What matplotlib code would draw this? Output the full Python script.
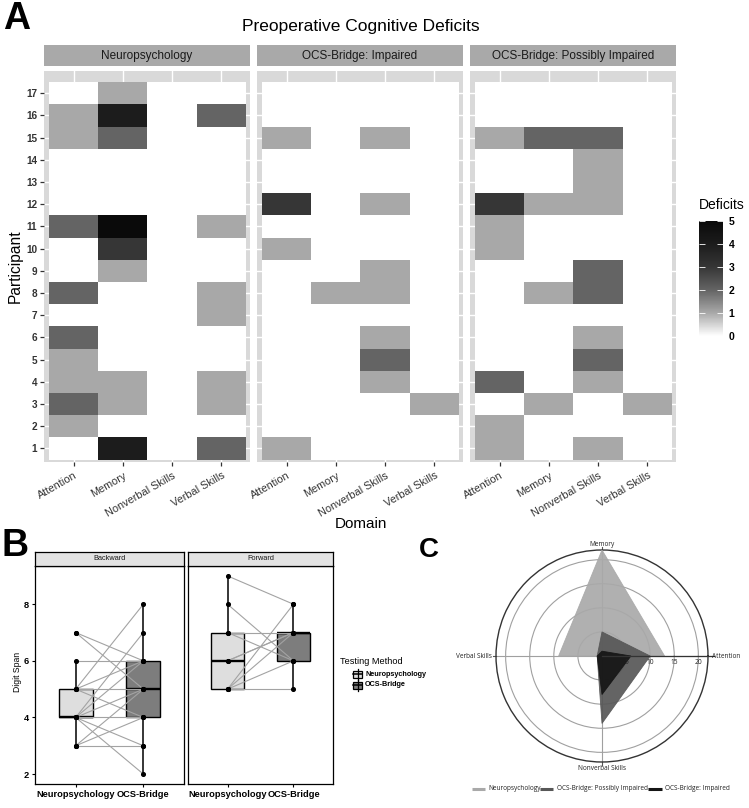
import numpy as np
import matplotlib
matplotlib.use('Agg')
import matplotlib.pyplot as plt
from matplotlib.colors import LinearSegmentedColormap
from matplotlib.patches import Rectangle
from matplotlib.lines import Line2D

plt.rcParams['font.family'] = ['Liberation Sans', 'DejaVu Sans']

W, H = 749, 808

# ---------------- data ----------------
domains = ['Attention', 'Memory', 'Nonverbal Skills', 'Verbal Skills']
participants = list(range(1, 18))
facets = ['Neuropsychology', 'OCS-Bridge: Impaired', 'OCS-Bridge: Possibly Impaired']

# deficits per participant 1..17
neuro_attention = [0, 1, 2, 1, 1, 2, 0, 2, 0, 0, 2, 0, 0, 0, 1, 1, 0]
neuro_memory    = [4, 0, 1, 1, 0, 0, 0, 0, 1, 3, 5, 0, 0, 0, 2, 4, 1]
neuro_nonverbal = [0, 0, 0, 0, 0, 0, 0, 0, 0, 0, 0, 0, 0, 0, 0, 0, 0]
neuro_verbal    = [2, 0, 1, 1, 0, 0, 1, 1, 0, 0, 1, 0, 0, 0, 0, 2, 0]

imp_attention = [1, 0, 0, 0, 0, 0, 0, 0, 0, 1, 0, 3, 0, 0, 1, 0, 0]
imp_memory    = [0, 0, 0, 0, 0, 0, 0, 1, 0, 0, 0, 0, 0, 0, 0, 0, 0]
imp_nonverbal = [0, 0, 0, 1, 2, 1, 0, 1, 1, 0, 0, 1, 0, 0, 1, 0, 0]
imp_verbal    = [0, 0, 1, 0, 0, 0, 0, 0, 0, 0, 0, 0, 0, 0, 0, 0, 0]

pos_attention = [1, 1, 0, 2, 0, 0, 0, 0, 0, 1, 1, 3, 0, 0, 1, 0, 0]
pos_memory    = [0, 0, 1, 0, 0, 0, 0, 1, 0, 0, 0, 1, 0, 0, 2, 0, 0]
pos_nonverbal = [1, 0, 0, 1, 2, 1, 0, 2, 2, 0, 0, 1, 1, 1, 2, 0, 0]
pos_verbal    = [0, 0, 1, 0, 0, 0, 0, 0, 0, 0, 0, 0, 0, 0, 0, 0, 0]

facet_data = {
    'Neuropsychology': [neuro_attention, neuro_memory, neuro_nonverbal, neuro_verbal],
    'OCS-Bridge: Impaired': [imp_attention, imp_memory, imp_nonverbal, imp_verbal],
    'OCS-Bridge: Possibly Impaired': [pos_attention, pos_memory, pos_nonverbal, pos_verbal],
}

# digit span pairs (neuropsychology, OCS-Bridge)
back_neuro = [7, 7, 6, 5, 5, 5, 5, 4, 4, 4, 4, 4, 4, 3, 3, 3]
back_ocs   = [6, 5, 6, 8, 6, 4, 5, 7, 5, 4, 3, 2, 6, 3, 4, 5]
fwd_neuro  = [9, 8, 7, 7, 6, 6, 5, 5, 5, 5]
fwd_ocs    = [8, 6, 7, 6, 7, 7, 5, 8, 7, 6]
methods = ['Neuropsychology', 'OCS-Bridge']

radar_axes = ['Attention', 'Memory', 'Verbal Skills', 'Nonverbal Skills']
radar_angles = [0, 90, 180, 270]

# ---------------- helpers ----------------
def box(x0, y0, x1, y1):
    return [x0 / W, 1 - y1 / H, (x1 - x0) / W, (y1 - y0) / H]

def T(x, y, s, **kw):
    return fig.text(x / W, 1 - y / H, s, **kw)

fig = plt.figure(figsize=(W / 100, H / 100), dpi=100)
fig.patch.set_facecolor('white')
ov = fig.add_axes([0, 0, 1, 1], zorder=10)
ov.set_xlim(0, W)
ov.set_ylim(H, 0)
ov.axis('off')
ov.patch.set_alpha(0)

# ---------------- Panel A ----------------
cmap = LinearSegmentedColormap.from_list(
    'def', [(0, '#ffffff'), (0.2, '#a8a8a8'), (0.4, '#646464'),
            (0.6, '#363636'), (0.8, '#1c1c1c'), (1, '#0a0a0a')])

panel_x = [(44, 250), (257, 463), (470, 676)]
mesh = None
for i, (fac, (x0, x1)) in enumerate(zip(facets, panel_x)):
    ax = fig.add_axes(box(x0, 71, x1, 462))
    ax.set_facecolor('#d9d9d9')
    M = np.array(facet_data[fac]).T
    mesh = ax.pcolormesh(np.arange(0.5, 5.5), np.arange(0.5, 18.5), M,
                         cmap=cmap, vmin=0, vmax=5, zorder=2)
    ax.set_xlim(0.4, 4.58)
    ax.set_ylim(0.39, 18.0)
    ax.set_xticks(range(1, 5))
    ax.set_yticks(participants)
    ax.grid(True, color='white', lw=1.0, zorder=1)
    ax.set_axisbelow(True)
    for s in ax.spines.values():
        s.set_visible(False)
    ax.set_xticklabels(domains, rotation=30, ha='right', va='top',
                       rotation_mode='anchor', fontsize=7.8, color='#333333')
    ax.tick_params(axis='x', length=3, width=0.9, color='#333333', pad=3)
    if i == 0:
        ax.set_yticklabels([str(p) for p in participants], fontsize=7.2,
                           fontweight='bold', color='#333333')
        ax.tick_params(axis='y', length=3, width=0.9, color='#333333', pad=2)
    else:
        ax.tick_params(axis='y', length=0, labelleft=False)
    # strip
    sax = fig.add_axes(box(x0, 45, x1, 66))
    sax.set_facecolor('#a9a9a9')
    sax.set_xticks([]); sax.set_yticks([])
    for s in sax.spines.values():
        s.set_visible(False)
    sax.text(0.5, 0.5, fac, ha='center', va='center', fontsize=8.5,
             color='#1a1a1a', transform=sax.transAxes)

cax = fig.add_axes(box(699, 221, 723, 336))
cb = fig.colorbar(mesh, cax=cax, ticks=range(6))
cb.outline.set_visible(False)
cax.tick_params(left=True, right=True, labelleft=False, labelright=True,
                direction='in', length=4, width=0.6, color='white',
                labelsize=7.5, pad=4)
for t in cax.get_yticklabels():
    t.set_fontweight('bold')
T(699, 205, 'Deficits', fontsize=10, va='center', ha='left')

T(361, 27, 'Preoperative Cognitive Deficits', fontsize=12.5, ha='center', va='center')
T(15, 266, 'Participant', fontsize=11.2, rotation=90, ha='center', va='center')
T(361, 524, 'Domain', fontsize=11, ha='center', va='center')
T(3, 29, 'A', fontsize=27, fontweight='bold', ha='left', va='baseline')

# ---------------- Panel B ----------------
b_panels = [('Backward', back_neuro, back_ocs, 35, 184),
            ('Forward', fwd_neuro, fwd_ocs, 188, 333)]
for j, (name, dn, do, x0, x1) in enumerate(b_panels):
    ax = fig.add_axes(box(x0, 566, x1, 784))
    bp = ax.boxplot([dn, do], positions=[1, 2], widths=0.5, patch_artist=True,
                    showfliers=False, showcaps=False, whis=1.5,
                    medianprops=dict(color='black', lw=1.7),
                    boxprops=dict(edgecolor='black', lw=1.0),
                    whiskerprops=dict(color='black', lw=1.1))
    for patch, c in zip(bp['boxes'], ['#dedede', '#7d7d7d']):
        patch.set_facecolor(c)
    for a, b in zip(dn, do):
        ax.plot([1, 2], [a, b], color='#a3a3a3', lw=0.8, zorder=3)
    ax.scatter(np.ones(len(dn)), dn, s=7, color='black', zorder=4)
    ax.scatter(np.full(len(do), 2), do, s=7, color='black', zorder=4)
    ax.set_xlim(0.4, 2.6)
    ax.set_ylim(1.65, 9.35)
    ax.set_xticks([1, 2])
    ax.set_xticklabels(methods, fontsize=6.7, fontweight='bold', color='black')
    ax.set_yticks([2, 4, 6, 8])
    ax.tick_params(length=2.5, width=0.8, color='black', pad=2)
    if j == 0:
        ax.set_yticklabels(['2', '4', '6', '8'], fontsize=6.7, fontweight='bold')
    else:
        ax.tick_params(axis='y', length=0, labelleft=False)
    for s in ax.spines.values():
        s.set_color('black'); s.set_linewidth(0.9)
    sax = fig.add_axes(box(x0, 552, x1, 566))
    sax.set_facecolor('#e3e3e3')
    sax.set_xticks([]); sax.set_yticks([])
    for s in sax.spines.values():
        s.set_color('black'); s.set_linewidth(0.9)
    sax.text(0.5, 0.5, name, ha='center', va='center', fontsize=5.3,
             color='#1a1a1a', transform=sax.transAxes)

T(17, 672, 'Digit Span', fontsize=6.2, rotation=90, ha='center', va='center')
T(2, 556, 'B', fontsize=27, fontweight='bold', ha='left', va='baseline')

# legend B
T(340, 661, 'Testing Method', fontsize=6.6, ha='left', va='center')
for k, (lab, c) in enumerate(zip(methods, ['#dedede', '#7d7d7d'])):
    yc = 674 + k * 11
    ov.plot([357.5, 357.5], [yc - 5.5, yc + 5.5], color='black', lw=0.9)
    ov.add_patch(Rectangle((353, yc - 3.5), 9, 7, facecolor=c, edgecolor='black', lw=0.9))
    ov.plot([353, 362], [yc, yc], color='black', lw=1.1)
    T(365, yc, lab, fontsize=5.2, fontweight='bold', ha='left', va='center')

# ---------------- Panel C ----------------
totals = {
    'Neuropsychology': [sum(neuro_attention), sum(neuro_memory), sum(neuro_verbal), sum(neuro_nonverbal)],
    'OCS-Bridge: Possibly Impaired': [sum(pos_attention), sum(pos_memory), sum(pos_verbal), sum(pos_nonverbal)],
    'OCS-Bridge: Impaired': [sum(imp_attention), sum(imp_memory), sum(imp_verbal), sum(imp_nonverbal)],
}
radar_colors = {'Neuropsychology': '#a9a9a9',
                'OCS-Bridge: Possibly Impaired': '#575757',
                'OCS-Bridge: Impaired': '#151515'}

axc = fig.add_axes(box(496, 550, 708, 762), projection='polar')
axc.set_ylim(0, 22)
axc.set_rgrids([5, 10, 15, 20], labels=['', '', '', ''])
axc.set_thetagrids(radar_angles, labels=['', '', '', ''])
axc.grid(True, color='#a0a0a0', lw=0.8)
axc.spines['polar'].set_color('#333333')
axc.spines['polar'].set_linewidth(1.0)
th = np.deg2rad(radar_angles + [radar_angles[0]])
for name in ['Neuropsychology', 'OCS-Bridge: Possibly Impaired', 'OCS-Bridge: Impaired']:
    v = totals[name]
    r = v + [v[0]]
    axc.fill(th, r, color=radar_colors[name], alpha=0.92, lw=0.6, zorder=3)
axc.plot([0, 0], [0, 23.2], color='#333333', lw=0.9, zorder=5, clip_on=False)
for a in radar_angles[1:]:
    axc.plot([np.deg2rad(a)] * 2, [22, 22.7], color='#555555', lw=0.8, clip_on=False)
for rv in [5, 10, 15, 20]:
    axc.annotate(str(rv), xy=(0, rv), xytext=(0, -2.5), textcoords='offset points',
                 ha='center', va='top', fontsize=4.8, family='Open Sans', color='#222222', zorder=6)

cf = dict(fontsize=4.7, family='Open Sans', color='#222222')
T(602, 544, 'Memory', ha='center', va='center', **cf)
T(602, 769, 'Nonverbal Skills', ha='center', va='center', **cf)
T(492, 656, 'Verbal Skills', ha='right', va='center', **cf)
T(712, 656, 'Attention', ha='left', va='center', **cf)

leg = [('Neuropsychology', 472, 485, 488),
       ('OCS-Bridge: Possibly Impaired', 540, 553, 557),
       ('OCS-Bridge: Impaired', 648, 662, 665)]
for name, lx0, lx1, tx in leg:
    ov.plot([lx0, lx1], [789, 789], color=radar_colors[name], lw=2.2, solid_capstyle='butt')
    T(tx, 789, name, ha='left', va='center', **cf)

T(419, 557, 'C', fontsize=20, fontweight='bold', ha='left', va='baseline')

fig.savefig('out.png', dpi=100, facecolor='white')
